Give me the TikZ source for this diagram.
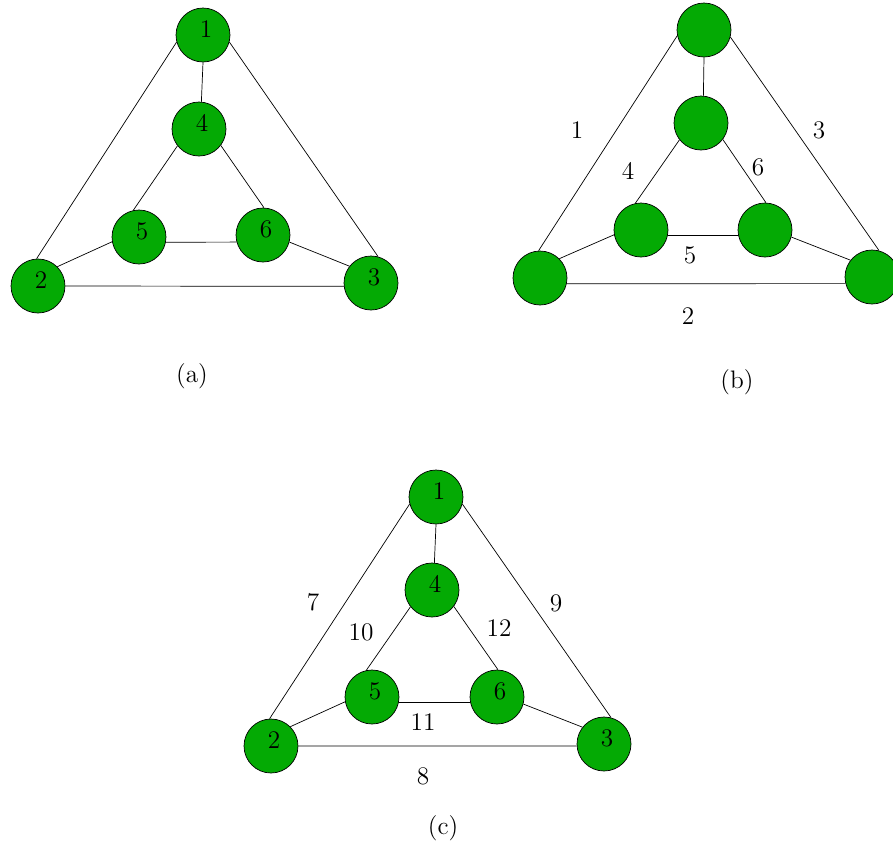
\documentclass[tikz,border=0pt]{standalone}
\usepackage{tikz}
\usetikzlibrary{positioning}

\definecolor{knotengruen}{RGB}{4,170,4}

\begin{document}
\begin{tikzpicture}[x=0.02cm, y=-0.02cm, every node/.style={font=\Large}]

    \tikzset{knoten/.style={circle, draw=black, fill=knotengruen, minimum size=1.08cm, inner sep=0pt,
                            text height=0.55em, text depth=0.22em, execute at begin node=\hspace*{3.4pt}}}
    \tikzset{kante/.style={black, thin}}
    \tikzset{kantenzahl/.style={inner sep=1pt}}

    \useasboundingbox (0,0) rectangle (893,850);

    % --- 1. Graph (a) mit Knotennummern ---
    \node[knoten] (a1) at (203,35) {1};
    \node[knoten] (a4) at (199,129) {4};
    \node[knoten] (a5) at (139,237) {5};
    \node[knoten] (a6) at (263,235) {6};
    \node[knoten] (a2) at (38,286) {2};
    \node[knoten] (a3) at (371,283) {3};
    \draw[kante] (a1.south) -- (a4.85);
    \draw[kante] (a1.195) -- (a2.93);
    \draw[kante] (a1.-15) -- (a3.75);
    \draw[kante] (a4.218) -- (a5.102);
    \draw[kante] (a4.-37) -- (a6.88);
    \draw[kante] (a5.-11) -- (a6.195);
    \draw[kante] (a2.45) -- (a5.190);
    \draw[kante] (a6.-15) -- (a3.142);
    \draw[kante] (a2.east) -- (a3.187);
    \node (txt-a) at (192,376) {(a)};

    % --- 2. Graph (b) mit Kantennummern ---
    \node[knoten] (b1) at (704,30) {};
    \node[knoten] (b4) at (701,123) {};
    \node[knoten] (b5) at (641,230) {};
    \node[knoten] (b6) at (765,230) {};
    \node[knoten] (b2) at (540,278) {};
    \node[knoten] (b3) at (872,277) {};
    \draw[kante] (b1.south) -- (b4.85);
    \draw[kante] (b1.192) -- (b2.93);
    \draw[kante] (b1.-15) -- (b3.75);
    \draw[kante] (b4.218) -- (b5.102);
    \draw[kante] (b4.-37) -- (b6.88);
    \draw[kante] (b5.-11) -- (b6.191);
    \draw[kante] (b2.45) -- (b5.190);
    \draw[kante] (b6.-15) -- (b3.142);
    \draw[kante] (b2.-12) -- (b3.194);
    \node[kantenzahl] (b-k1) at (577,130) {1};
    \node[kantenzahl] (b-k2) at (688,316) {2};
    \node[kantenzahl] (b-k3) at (819,130) {3};
    \node[kantenzahl] (b-k4) at (628,171) {4};
    \node[kantenzahl] (b-k5) at (690,255) {5};
    \node[kantenzahl] (b-k6) at (758,167) {6};
    \node (txt-b) at (737,382) {(b)};

    % --- 3. Graph (c) mit Knoten- und Kantennummern ---
    \node[knoten] (c1) at (436,497) {1};
    \node[knoten] (c4) at (432,590) {4};
    \node[knoten] (c5) at (372,697) {5};
    \node[knoten] (c6) at (497,697) {6};
    \node[knoten] (c2) at (271,746) {2};
    \node[knoten] (c3) at (604,744) {3};
    \draw[kante] (c1.south) -- (c4.85);
    \draw[kante] (c1.195) -- (c2.93);
    \draw[kante] (c1.-15) -- (c3.75);
    \draw[kante] (c4.218) -- (c5.102);
    \draw[kante] (c4.-37) -- (c6.88);
    \draw[kante] (c5.-11) -- (c6.191);
    \draw[kante] (c2.45) -- (c5.190);
    \draw[kante] (c6.-15) -- (c3.142);
    \draw[kante] (c2.east) -- (c3.184);
    \node[kantenzahl] (c-k7) at (313,602) {7};
    \node[kantenzahl] (c-k8) at (423,776) {8};
    \node[kantenzahl] (c-k9) at (556,603) {9};
    \node[kantenzahl] (c-k10) at (361,632) {10};
    \node[kantenzahl] (c-k11) at (423,722) {11};
    \node[kantenzahl] (c-k12) at (499,628) {12};
    \node (txt-c) at (443,828) {(c)};

\end{tikzpicture}
\end{document}
